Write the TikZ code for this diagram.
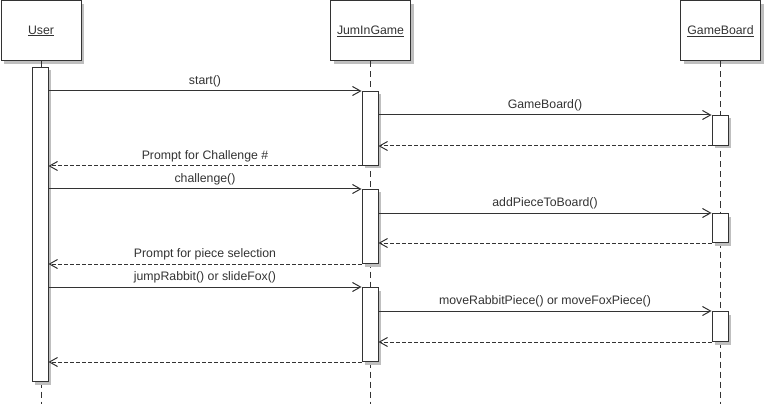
\documentclass[tikz,border=0pt]{standalone}
\usepackage{fontspec}
\setmainfont{Liberation Sans}
\usetikzlibrary{arrows.meta,shadows}
\definecolor{umlline}{HTML}{333333}

\begin{document}
\begin{tikzpicture}[x=1pt,y=-1pt,
    font=\fontsize{12.3}{14}\selectfont,
    shade box/.style={draw=umlline, line width=1pt, fill=white, inner sep=0pt,
      drop shadow={shadow xshift=3pt,shadow yshift=-3pt,fill=black!25,opacity=1}},
    obj/.style={shade box, text=umlline, minimum width=80pt, minimum height=60pt, anchor=north west},
    act/.style={shade box, minimum width=16pt, anchor=north},
    life/.style={umlline, line width=1pt, dash pattern=on 6pt off 4pt},
    call/.style={umlline, line width=1pt, -{Straight Barb[length=8pt,width=9pt]}},
    reply/.style={call, dash pattern=on 4pt off 2pt},
    msg/.style={above=2pt, inner sep=1pt, text=umlline}]

  \useasboundingbox (0,0) rectangle (765,406);

  % objects
  \node[obj] (user) at (0.5,0.5) {\underline{User}};
  \node[obj] (game) at (330,0.5) {\underline{JumInGame}};
  \node[obj] (board) at (680,0.5) {\underline{GameBoard}};

  % lifelines
  \coordinate (bottom) at (0,404);
  \draw[life] (user.south) -- (user.south |- bottom);
  \draw[life] (game.south) -- (game.south |- bottom);
  \draw[life] (board.south) -- (board.south |- bottom);

  % activations
  \node[act, minimum height=314pt] (ua) at (40,67) {};
  \node[act, minimum height=74pt] (g1) at (370,91) {};
  \node[act, minimum height=74pt] (g2) at (370,189) {};
  \node[act, minimum height=74pt] (g3) at (370,287) {};
  \node[act, minimum height=30pt] (b1) at (720,115) {};
  \node[act, minimum height=29pt] (b2) at (720,213) {};
  \node[act, minimum height=30pt] (b3) at (720,311) {};

  % messages
  \draw[call] (ua.east |- g1.north) -- node[msg] {start()} (g1.north west);
  \draw[call] (g1.east |- b1.north) -- node[msg] {GameBoard()} (b1.north west);
  \draw[reply] (b1.south west) -- (g1.east |- b1.south);
  \draw[reply] (g1.south west) -- node[msg] {Prompt for Challenge \#} (ua.east |- g1.south);

  \draw[call] (ua.east |- g2.north) -- node[msg] {challenge()} (g2.north west);
  \draw[call] (g2.east |- b2.north) -- node[msg] {addPieceToBoard()} (b2.north west);
  \draw[reply] (b2.south west) -- (g2.east |- b2.south);
  \draw[reply] (g2.south west) -- node[msg] {Prompt for piece selection} (ua.east |- g2.south);

  \draw[call] (ua.east |- g3.north) -- node[msg] {jumpRabbit() or slideFox()} (g3.north west);
  \draw[call] (g3.east |- b3.north) -- node[msg] {moveRabbitPiece() or moveFoxPiece()} (b3.north west);
  \draw[reply] (b3.south west) -- (g3.east |- b3.south);
  \draw[reply] (g3.south west) -- (ua.east |- g3.south);
\end{tikzpicture}
\end{document}
